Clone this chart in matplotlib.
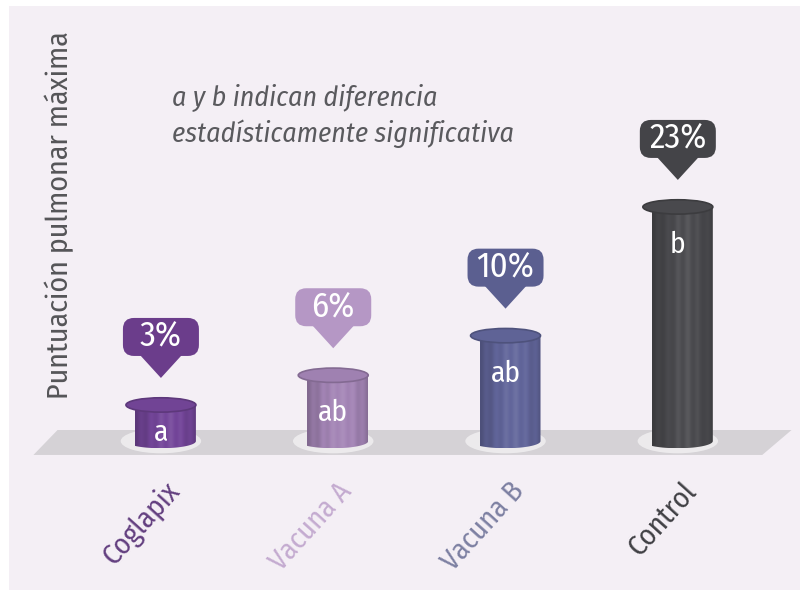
import numpy as np
import matplotlib
matplotlib.use("Agg")
import matplotlib.pyplot as plt
from matplotlib.patches import Polygon, Ellipse, FancyBboxPatch, PathPatch, Rectangle
from matplotlib.path import Path
import matplotlib.transforms as mtransforms
from matplotlib.colors import to_rgb

# ---------------- data ----------------
categories = ["Coglapix", "Vacuna A", "Vacuna B", "Control"]
values = [3, 6, 10, 23]
value_labels = ["3%", "6%", "10%", "23%"]
sig_letters = ["a", "ab", "ab", "b"]
body_colors = ["#74469a", "#a485b6", "#62669b", "#4b4b4f"]
bubble_colors = ["#6b3d8b", "#b597c5", "#5b5f90", "#444448"]
label_colors = ["#633f80", "#c4abd0", "#7d80a2", "#404044"]
ylabel = "Puntuación pulmonar máxima"
note_lines = ["a y b indican diferencia", "estadísticamente significativa"]

FONT = ["Fira Sans Condensed", "DejaVu Sans"]
plt.rcParams["font.family"] = FONT

fig = plt.figure(figsize=(8, 5.9), dpi=100, facecolor="white")
fig.patches.append(Rectangle((9 / 800, 0), 1, 1 - 6 / 590, transform=fig.transFigure,
                             facecolor="#f4eff5", edgecolor="none", zorder=-5))
ax = fig.add_axes([0, 0, 1, 1])
ax.set_zorder(1)
ax.patch.set_alpha(0)
ax.axis("off")
XLIM = (-0.934, 3.709)
YLIM = (-15.69, 43.9)
ax.set_xlim(*XLIM)
ax.set_ylim(*YLIM)
renderer = fig.canvas.get_renderer()


def fit(t, target_px):
    """Scale a text's font size so its unrotated width equals target_px."""
    rot = t.get_rotation()
    t.set_rotation(0)
    w = t.get_window_extent(renderer).width
    t.set_fontsize(t.get_fontsize() * target_px / w)
    t.set_rotation(rot)
    return t.get_fontsize()


x = np.arange(len(categories))
BASE = -0.65          # cylinder bottom (ellipse centre)
W = 0.406             # cylinder width in x units
EH = 1.45             # ellipse full height in y units

# floor
x0, x1 = x[0] - 0.74, x[-1] + 0.49
floor = Polygon([(x0, -2.05), (x1, -2.05), (x1 + 0.17, 0.47), (x0 + 0.14, 0.47)],
                closed=True, facecolor="#d5d2d6", edgecolor="none", zorder=1)
ax.add_patch(floor)


def shade(c, f):
    r = np.array(to_rgb(c))
    if f < 1:
        return r * f
    return r + (1 - r) * (f - 1)


letter_texts, pct_texts, cat_texts = [], [], []
for i, (xi, v) in enumerate(zip(x, values)):
    c = body_colors[i]
    l, r = xi - W / 2, xi + W / 2
    t = np.linspace(np.pi, 2 * np.pi, 40)
    arc = np.column_stack([xi + W / 2 * np.cos(t), BASE + EH / 2 * np.sin(t)])
    verts = np.vstack([[[l, v]], [[l, BASE]], arc, [[r, v]], [[l, v]]])
    codes = [Path.MOVETO] + [Path.LINETO] * (len(verts) - 2) + [Path.CLOSEPOLY]
    body_path = Path(verts, codes)
    glow = Ellipse((xi, BASE), W * 1.15, EH * 1.7, facecolor="white", alpha=0.55,
                   edgecolor="none", zorder=2)
    ax.add_patch(glow)
    patch = PathPatch(body_path, facecolor="none", edgecolor="none", zorder=3)
    ax.add_patch(patch)
    u = np.linspace(-1, 1, 200)
    f = 0.82 + 0.22 * np.cos(u * np.pi / 2 - 0.35) ** 1.5 + 0.04 * np.cos(u * np.pi * 7)
    img = np.clip(np.array([shade(c, fv) for fv in f]), 0, 1)[None, :, :]
    im = ax.imshow(img, extent=(l, r, BASE - EH / 2, v), aspect="auto",
                   interpolation="bilinear", zorder=3)
    im.set_clip_path(patch)
    top = Ellipse((xi, v), W, EH, facecolor=shade(c, 0.97),
                  edgecolor=shade(c, 0.8), linewidth=1.2, zorder=4)
    ax.add_patch(top)
    letter_texts.append(ax.text(xi, max(v - 3.8, BASE + 0.9), sig_letters[i],
                                color="white", fontsize=19, ha="center",
                                va="center", zorder=5))

    tr = mtransforms.Affine2D().translate(0, 27) + \
        mtransforms.ScaledTranslation(xi, v, ax.transData)
    box = FancyBboxPatch((-38, 22), 76, 38,
                         boxstyle="round,pad=0,rounding_size=11",
                         facecolor=bubble_colors[i], edgecolor="none",
                         transform=tr, zorder=5)
    ax.add_patch(box)
    tri = Polygon([(-21, 23), (21, 23), (0, 0)], closed=True,
                  facecolor=bubble_colors[i], edgecolor="none", transform=tr, zorder=5)
    ax.add_patch(tri)
    pct_texts.append(ax.text(0, 41, value_labels[i], color="white", fontsize=24,
                             ha="center", va="center", transform=tr, zorder=6))

    cat_texts.append(ax.text(xi + 0.08, -5.2, categories[i], color=label_colors[i],
                             fontsize=20, rotation=48, rotation_mode="anchor",
                             ha="right", va="center", zorder=5))

ax.set_xlim(*XLIM)
ax.set_ylim(*YLIM)

# font sizes fitted to the reference's text widths
fs = fit(letter_texts[1], 30)
for tt in letter_texts:
    tt.set_fontsize(fs)
fs = fit(pct_texts[3], 57)
for tt in pct_texts:
    tt.set_fontsize(fs)
fs = fit(cat_texts[0], 100)
for tt in cat_texts:
    tt.set_fontsize(fs)

yl = ax.text(-0.592, 22.2, ylabel, color="#555558", fontsize=20, rotation=90,
             ha="center", va="center")
fit(yl, 368)

n1 = ax.text(0.064, 33.3, note_lines[0], color="#5a5a5e", fontsize=22,
             style="italic", ha="left", va="baseline")
n2 = ax.text(0.064, 29.55, note_lines[1], color="#5a5a5e", fontsize=22,
             style="italic", ha="left", va="baseline")
fs = fit(n2, 343)
n1.set_fontsize(fs)

fig.savefig("out.png", dpi=100, facecolor="white")
